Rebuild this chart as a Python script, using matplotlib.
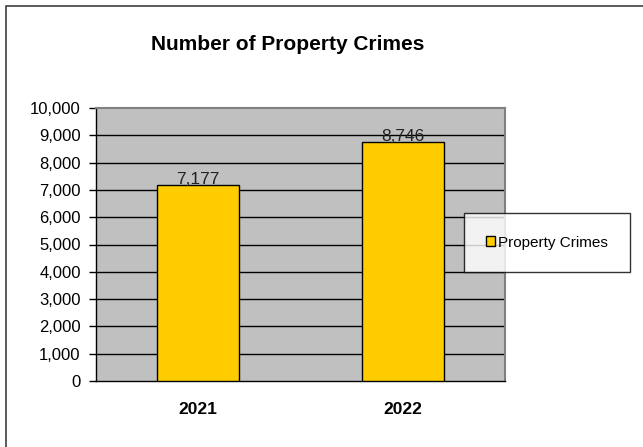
import matplotlib
matplotlib.use("Agg")
import matplotlib.pyplot as plt
from matplotlib.patches import Rectangle

# chart data
years = ["2021", "2022"]
crimes = [7177, 8746]
series_name = "Property Crimes"
title = "Number of Property Crimes"

plt.rcParams["font.family"] = ["Liberation Sans", "DejaVu Sans"]

fig = plt.figure(figsize=(6.43, 4.47), dpi=100)
ax = fig.add_axes([96 / 643, 66 / 447, 409 / 643, 273 / 447])

# outer chart frame (cut off at right and bottom like the original)
fig.patches.append(Rectangle((6 / 643, -0.1), 1.2, (441 / 447) + 0.1,
                             transform=fig.transFigure, fill=False,
                             edgecolor="#404040", linewidth=1.2))

ax.set_facecolor("#C0C0C0")
xs = list(range(len(years)))
bars = ax.bar(xs, crimes, width=0.4, color="#FFCC00", edgecolor="black",
              linewidth=1, zorder=3, label=series_name)

for b, v in zip(bars, crimes):
    ax.text(b.get_x() + b.get_width() / 2, v - 80, f"{v:,}",
            ha="center", va="bottom", fontsize=12.5, color="#222222", zorder=4)

ax.set_xlim(-0.5, 1.5)
ax.set_ylim(0, 10000)
ax.set_yticks(range(0, 10001, 1000))
ax.set_yticklabels([f"{t:,}" for t in range(0, 10001, 1000)], fontsize=12)
ax.set_xticks(xs)
ax.set_xticklabels(years, fontsize=12.5, fontweight="bold")
ax.tick_params(axis="x", length=0, pad=15)
ax.tick_params(axis="y", length=5, direction="out", width=1, pad=6)

# horizontal gridlines (not at the top)
for t in range(1000, 10000, 1000):
    ax.axhline(t, color="black", linewidth=1, zorder=1)

for s in ["top", "right"]:
    ax.spines[s].set_color("#808080")
    ax.spines[s].set_linewidth(1.5)
for s in ["left", "bottom"]:
    ax.spines[s].set_color("black")
    ax.spines[s].set_linewidth(1)

fig.text(288 / 643, 1 - 45 / 447, title, ha="center", va="center",
         fontsize=15, fontweight="bold")

leg = fig.legend(handles=[bars], labels=[series_name],
                 loc="center left", bbox_to_anchor=(464 / 643, 1 - 242.5 / 447),
                 frameon=True, fancybox=False, fontsize=11,
                 handlelength=0.6, handleheight=0.6, handletextpad=0.2,
                 borderpad=1.45, borderaxespad=0)
leg.get_frame().set_edgecolor("black")
leg.get_frame().set_linewidth(1)

fig.savefig("out.png", dpi=100)
